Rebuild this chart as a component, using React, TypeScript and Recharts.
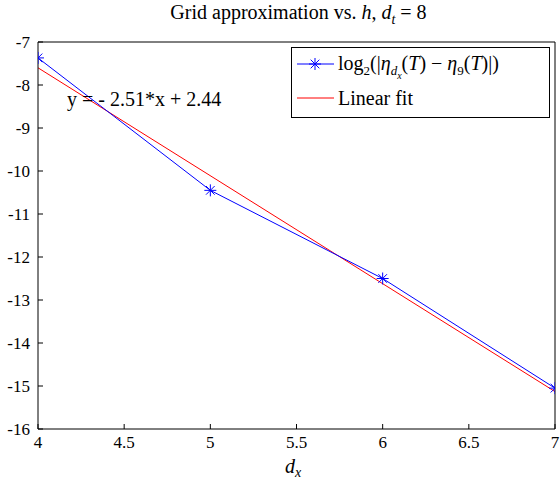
import React from "react";
import { ComposedChart, Line, XAxis, YAxis, Label } from "recharts";

// grid level d_x and the measured error log2(|eta_dx(T) - eta_9(T)|)
const dxValues = [4, 5, 6, 7];
const errorLog2 = [-7.37, -10.45, -12.5, -15.05];

// least squares line y = -2.51*x + 2.44, evaluated at the ends of the range
const fitSlope = -2.51;
const fitIntercept = 2.44;
const fitX = [4, 7];

const xTicks = [4, 4.5, 5, 5.5, 6, 6.5, 7];
const yTicks = [-16, -15, -14, -13, -12, -11, -10, -9, -8, -7];

const errorData = dxValues.map((x, i) => ({ x, y: errorLog2[i] }));
const fitData = fitX.map((x) => ({ x, y: fitSlope * x + fitIntercept }));

const FONT = "Liberation Serif";
const BLUE = "#0000ff";
const RED = "#ff0000";

function Star({ cx, cy, size = 6, color = BLUE }: { cx?: number; cy?: number; size?: number; color?: string }) {
  if (cx == null || cy == null) return null;
  const d = size * 0.72;
  return (
    <g stroke={color} strokeWidth={1}>
      <line x1={cx - size} y1={cy} x2={cx + size} y2={cy} />
      <line x1={cx} y1={cy - size} x2={cx} y2={cy + size} />
      <line x1={cx - d} y1={cy - d} x2={cx + d} y2={cy + d} />
      <line x1={cx - d} y1={cy + d} x2={cx + d} y2={cy - d} />
    </g>
  );
}

function LegendBox() {
  return (
    <div
      style={{
        position: "absolute",
        left: 291,
        top: 47,
        border: "1px solid #000",
        background: "#fff",
        width: 259,
        height: 71,
        fontFamily: FONT,
        fontSize: 20,
        color: "#000",
        boxSizing: "border-box",
        padding: "0 0 0 5px",
      }}
    >
      <div style={{ display: "flex", alignItems: "center", height: 31 }}>
        <svg width={38} height={16} style={{ marginRight: 3 }}>
          <line x1={0} y1={8} x2={37} y2={8} stroke={BLUE} />
          <Star cx={18} cy={8} />
        </svg>
        <span style={{ whiteSpace: "nowrap", lineHeight: "22px" }}>
          log<sub style={{ fontSize: 13, lineHeight: 0 }}>2</sub>(|<i>η</i>
          <sub style={{ fontSize: 13, lineHeight: 0 }}>
            <i>d</i>
            <sub style={{ fontSize: 10, lineHeight: 0 }}>
              <i>x</i>
            </sub>
          </sub>
          (<i>T</i>) − <i>η</i>
          <sub style={{ fontSize: 13, lineHeight: 0 }}>9</sub>(<i>T</i>)|)
        </span>
      </div>
      <div style={{ display: "flex", alignItems: "center", height: 38 }}>
        <svg width={38} height={16} style={{ marginRight: 3 }}>
          <line x1={0} y1={8} x2={37} y2={8} stroke={RED} />
        </svg>
        <span>Linear fit</span>
      </div>
    </div>
  );
}

const tickStyle = { fill: "#000", fontSize: 17, fontFamily: FONT };

export default function App() {
  return (
    <div style={{ position: "absolute", left: 0, top: 0, width: 560, height: 484, background: "#fff" }}>
      <div
        style={{
          position: "absolute",
          top: 1,
          left: 40,
          width: 517,
          textAlign: "center",
          fontFamily: FONT,
          fontSize: 20,
          lineHeight: "23px",
          color: "#000",
        }}
      >
        Grid approximation vs. <i>h</i>, <i>d</i>
        <sub style={{ fontSize: 14, lineHeight: 0 }}>
          <i>t</i>
        </sub>{" "}
        = 8
      </div>
      <ComposedChart
        width={560}
        height={484}
        margin={{ top: 41, right: 4, bottom: 25, left: 0 }}
      >
        <XAxis
          type="number"
          dataKey="x"
          domain={[4, 7]}
          ticks={xTicks}
          allowDataOverflow
          height={30}
          stroke="#000"
          tickSize={-5}
          tickMargin={12}
          tick={tickStyle}
        >
          <Label
            content={() => (
              <text x={293} y={473} textAnchor="middle" fontFamily={FONT} fontSize={20} fill="#000">
                <tspan fontStyle="italic">d</tspan>
                <tspan fontStyle="italic" fontSize={14} dy={4}>
                  x
                </tspan>
              </text>
            )}
          />
        </XAxis>
        <XAxis
          xAxisId="top"
          orientation="top"
          type="number"
          domain={[4, 7]}
          ticks={xTicks}
          allowDataOverflow
          height={1}
          stroke="#000"
          tickSize={-5}
          tick={false}
        />
        <YAxis
          type="number"
          domain={[-16, -7]}
          ticks={yTicks}
          allowDataOverflow
          width={38}
          stroke="#000"
          tickSize={-5}
          tickMargin={13}
          tick={tickStyle}
        />
        <YAxis
          yAxisId="right"
          orientation="right"
          type="number"
          domain={[-16, -7]}
          ticks={yTicks}
          allowDataOverflow
          width={1}
          stroke="#000"
          tickSize={-5}
          tick={false}
        />
        <Line
          data={fitData}
          dataKey="y"
          stroke={RED}
          strokeWidth={1}
          dot={false}
          activeDot={false}
          isAnimationActive={false}
        />
        <Line
          data={errorData}
          dataKey="y"
          stroke={BLUE}
          strokeWidth={1}
          dot={(p: any) => <Star key={p.index} cx={p.cx} cy={p.cy} />}
          activeDot={false}
          isAnimationActive={false}
        />
      </ComposedChart>
      <LegendBox />
      <div
        style={{
          position: "absolute",
          left: 67,
          top: 88,
          fontFamily: FONT,
          fontSize: 20,
          lineHeight: "23px",
          color: "#000",
          whiteSpace: "pre",
        }}
      >
        y = - 2.51*x + 2.44
      </div>
    </div>
  );
}
